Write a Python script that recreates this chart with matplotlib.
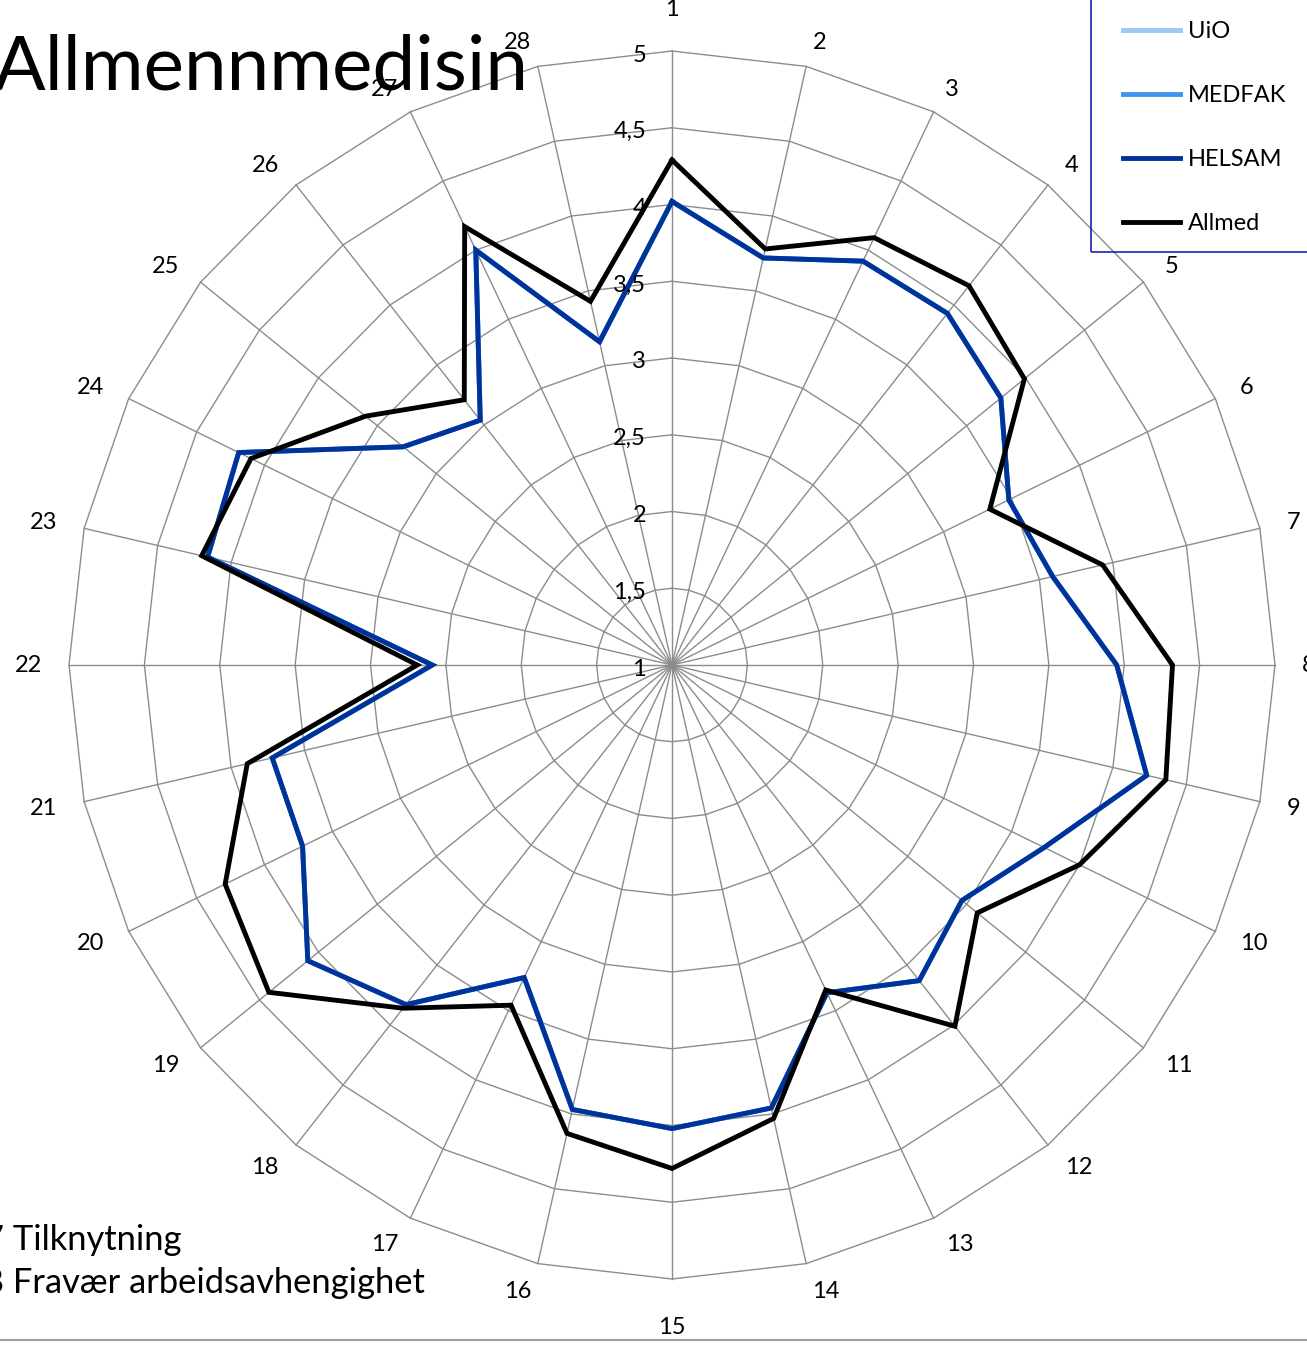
import numpy as np
import matplotlib.pyplot as plt
from matplotlib.patches import Rectangle

plt.rcParams['font.family'] = ['Lato', 'DejaVu Sans']

# 28 items, values on a 1-5 scale
items = [str(i) for i in range(1, 29)]
allmed = [4.29, 3.78, 4.09, 4.16, 3.99, 3.34, 3.93, 4.32, 4.36, 4.00,
          3.59, 4.01, 3.35, 4.03, 4.28, 4.13, 3.46, 3.86, 4.42, 4.29,
          3.89, 2.69, 4.20, 4.10, 3.60, 3.21, 4.17, 3.43]
helsam = [4.02, 3.72, 3.92, 3.93, 3.79, 3.48, 3.59, 3.95, 4.23, 3.74,
          3.46, 3.63, 3.37, 3.96, 4.02, 3.97, 3.26, 3.83, 4.09, 3.72,
          3.72, 2.59, 4.16, 4.19, 3.28, 3.04, 4.00, 3.16]
# UiO and MEDFAK lie under the HELSAM line in the picture
uio = list(helsam)
medfak = list(helsam)
levels = [1, 1.5, 2, 2.5, 3, 3.5, 4, 4.5, 5]
level_labels = ['1', '1,5', '2', '2,5', '3', '3,5', '4', '4,5', '5']

W, H = 1307, 1347
fig = plt.figure(figsize=(W / 100, H / 100), dpi=100)

# chart centre and radii (px); the plot is a little taller than wide
cx, cy, RX, RY = 672, 665, 603, 614
ax = fig.add_axes([(cx - RX) / W, (H - cy - RY) / H, 2 * RX / W, 2 * RY / H],
                  projection='polar')
ax.set_theta_offset(np.pi / 2)
ax.set_theta_direction(-1)
ax.set_ylim(1, 5)
ax.set_aspect('auto')
ax.set_axis_off()

n = len(items)
theta = np.linspace(0, 2 * np.pi, n, endpoint=False)
closed = np.append(theta, theta[0])
grid_col = '#8c8c8c'

# polygon grid
for lev in levels[1:]:
    ax.plot(closed, [lev] * (n + 1), color=grid_col, lw=1, clip_on=False)
for t in theta:
    ax.plot([t, t], [1, 5], color=grid_col, lw=1, clip_on=False)

for lev, lbl in zip(levels, level_labels):
    ax.annotate(lbl, xy=(0, lev), xytext=(-26, -4), textcoords='offset pixels',
                ha='right', va='center', fontsize=17)

# category labels, offset from the outer vertex like Excel does
for t, lbl in zip(theta, items):
    s, c = np.sin(t), np.cos(t)
    half_w = 7 * len(lbl)
    if abs(s) < 1e-6:
        dx, dy = 0, (42 if c > 0 else -49)
    else:
        dx = np.sign(s) * half_w + 27 * s
        dy = 24.6 * c if c > 0 else 29 * c
    ax.annotate(lbl, xy=(t, 5), xytext=(dx, dy), textcoords='offset pixels',
                ha='center', va='center', fontsize=17, annotation_clip=False)


def series(vals, color, label):
    v = np.append(vals, vals[0])
    return ax.plot(closed, v, color=color, lw=3.5, label=label,
                   clip_on=False, solid_joinstyle='miter')[0]


h1 = series(uio, '#9dc8f2', 'UiO')
h2 = series(medfak, '#3d95ee', 'MEDFAK')
h3 = series(helsam, '#003399', 'HELSAM')
h4 = series(allmed, 'black', 'Allmed')

# legend box runs off the top and right edge
fig.add_artist(Rectangle((1091 / W, (H - 252) / H), 300 / W, 300 / H,
                         transform=fig.transFigure, fill=False,
                         edgecolor='#1f1fbf', lw=1.2))
fig.legend(handles=[h1, h2, h3, h4], loc='lower left',
           bbox_to_anchor=(1123 / W, (H - 234) / H), borderaxespad=0,
           fontsize=17, labelspacing=1.82, handlelength=2.42,
           handletextpad=0.34, borderpad=0, frameon=False)

fig.text(-6 / W, (H - 90) / H, 'Allmennmedisin', fontsize=55, va='baseline')
fig.text(-36 / W, (H - 1250) / H, '27 Tilknytning', fontsize=24.8,
         va='baseline')
fig.text(-36 / W, (H - 1293) / H, '28 Fravær arbeidsavhengighet',
         fontsize=24.8, va='baseline')

fig.add_artist(plt.Line2D([0, 1], [(H - 1340) / H] * 2, color='#a0a0a0',
                          lw=1.5))

fig.savefig('out.png', dpi=100)
